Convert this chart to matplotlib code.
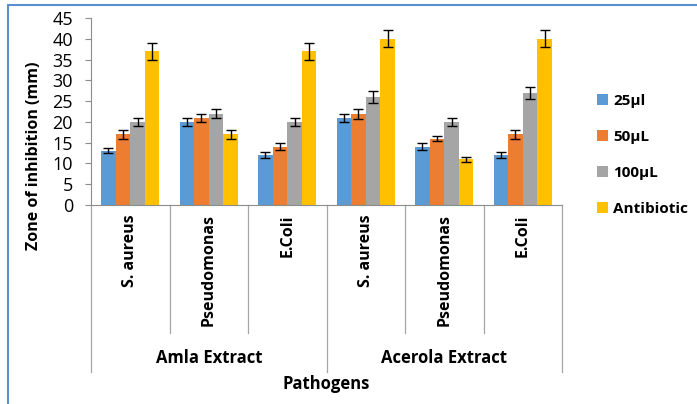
import numpy as np
import matplotlib.pyplot as plt
from matplotlib.patches import Rectangle

plt.rcParams['font.family'] = ['Open Sans', 'DejaVu Sans']

pathogens = ["S. aureus", "Pseudomonas", "E.Coli", "S. aureus", "Pseudomonas", "E.Coli"]
extracts = ["Amla Extract", "Acerola Extract"]
series = ["25µl", "50µL", "100µL", "Antibiotic"]

vol_25 = [13, 20, 12, 21, 14, 12]
vol_50 = [17, 21, 14, 22, 16, 17]
vol_100 = [20, 22, 20, 26, 20, 27]
antibiotic = [37, 17, 37, 40, 11, 40]

err_25 = [0.6, 1.0, 0.7, 1.0, 0.8, 0.7]
err_50 = [1.0, 1.0, 0.8, 1.2, 0.7, 1.0]
err_100 = [1.0, 1.0, 1.0, 1.4, 1.0, 1.4]
err_ab = [2.0, 1.0, 2.0, 2.0, 0.6, 2.0]

colors = ["#5B9BD5", "#ED7D31", "#A5A5A5", "#FFC000"]
W, H = 697, 404

fig = plt.figure(figsize=(W / 100, H / 100), dpi=100)
fig.patches.append(Rectangle((8 / W, -0.1), 1.2, 1 - 5 / H + 0.1, transform=fig.transFigure,
                             fill=False, edgecolor="#5B8FD0", linewidth=1.5))

ax = fig.add_axes([91 / W, 1 - 205 / H, (562 - 91) / W, (205 - 18) / H])

x = np.arange(len(pathogens)) + 0.5
bw = 0.186
values = [vol_25, vol_50, vol_100, antibiotic]
errors = [err_25, err_50, err_100, err_ab]
for i, (vals, errs) in enumerate(zip(values, errors)):
    ax.bar(x + (i - 1.5) * bw, vals, bw, color=colors[i], label=series[i], zorder=2,
           yerr=errs, error_kw=dict(ecolor="black", elinewidth=1, capsize=3.5, capthick=1))

ax.set_xlim(0, 6)
ax.set_ylim(0, 45)
ax.set_yticks(range(0, 46, 5))
ax.tick_params(axis='y', labelsize=13, color="#8C8C8C", length=4, pad=9)
ax.tick_params(axis='x', bottom=False, labelbottom=False)
for s in ["top", "right"]:
    ax.spines[s].set_visible(False)
for s in ["left", "bottom"]:
    ax.spines[s].set_color("#8C8C8C")

# category separators below the axis
trans = ax.get_xaxis_transform()
inner = -(333 - 205) / 187
outer = -(372 - 205) / 187
for k in range(7):
    depth = outer if k % 3 == 0 else inner
    ax.plot([k, k], [0, depth], color="#A6A6A6", lw=0.9, transform=trans, clip_on=False)

for xi, name in zip(x, pathogens):
    ax.text(xi, -0.05, name, rotation=90, ha="center", va="top", transform=trans,
            fontsize=11.5, fontweight="bold")

for g, name in enumerate(extracts):
    ax.text(1.5 + 3 * g, -(358 - 205) / 187, name, ha="center", va="center", transform=trans,
            fontsize=12, fontweight="bold")

fig.text(326 / W, 1 - 384 / H, "Pathogens", ha="center", va="center", fontsize=12, fontweight="bold")
fig.text(34 / W, 1 - 156 / H, "Zone of inhibition (mm)", rotation=90, ha="center", va="center",
         fontsize=11.5, fontweight="bold")

leg = fig.legend(loc="center left", bbox_to_anchor=(597 / W, 1 - 155 / H), frameon=False,
                 borderpad=0, borderaxespad=0,
                 handlelength=0.75, handleheight=0.75, handletextpad=0.3,
                 labelspacing=1.45, prop={'weight': 'bold', 'size': 11})

fig.savefig("out.png", dpi=100)
